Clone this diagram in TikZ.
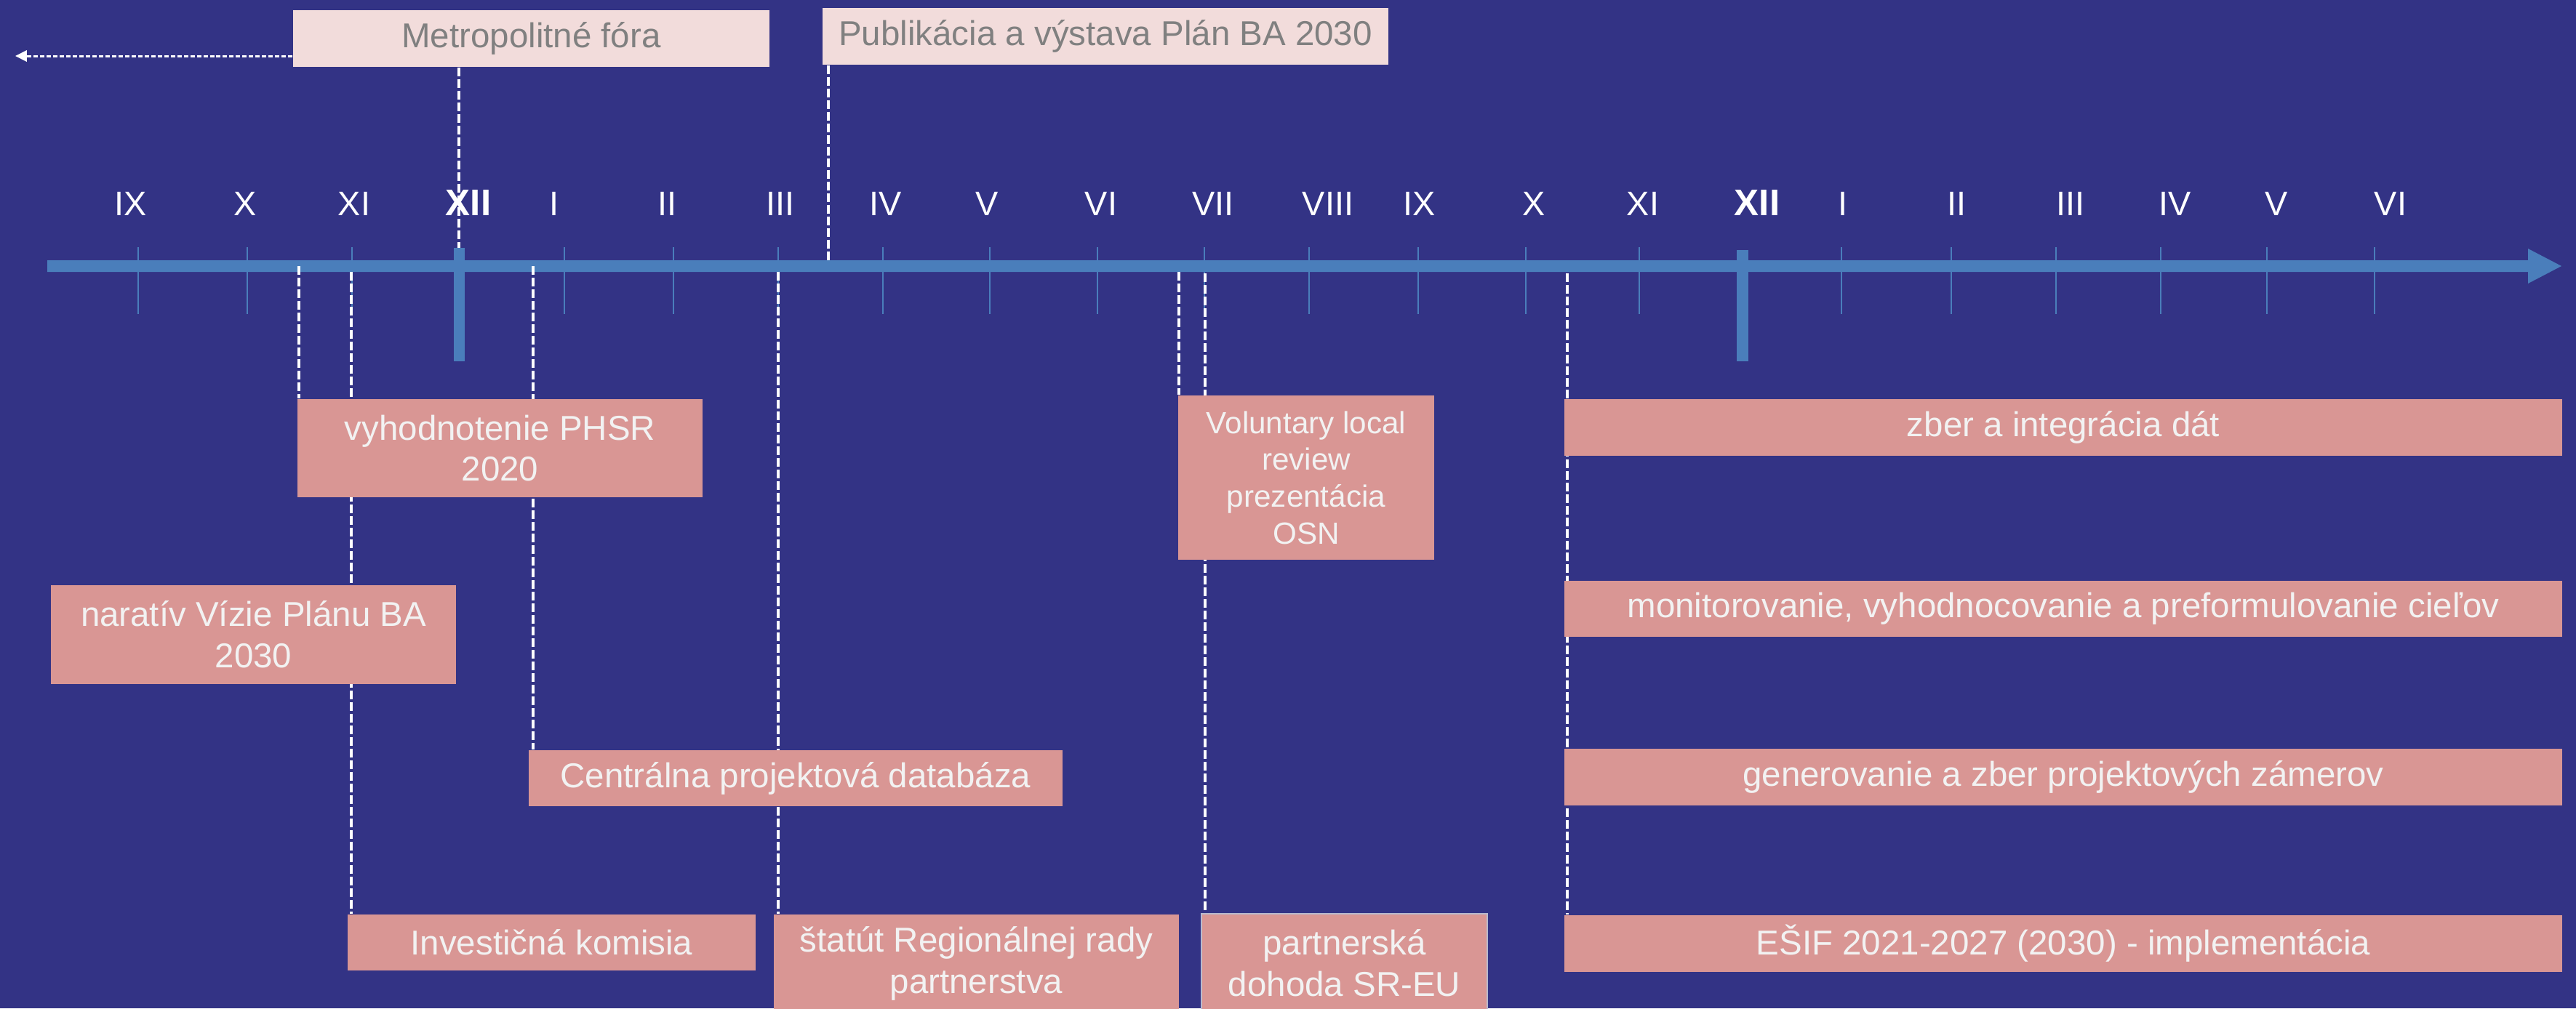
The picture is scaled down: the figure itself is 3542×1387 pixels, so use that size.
\documentclass[tikz,border=0pt]{standalone}
\usepackage{fontspec}
\setmainfont{Liberation Sans}
\usetikzlibrary{arrows.meta}
\definecolor{bgblue}{RGB}{51,51,133}
\definecolor{axisblue}{RGB}{74,126,187}
\definecolor{boxpink}{RGB}{217,150,148}
\definecolor{lightpink}{RGB}{242,220,219}
\definecolor{graytext}{RGB}{128,128,128}
\definecolor{boxtext}{RGB}{242,242,242}
\definecolor{partborder}{RGB}{185,185,205}
\pgfdeclarelayer{back}
\pgfdeclarelayer{mid}
\pgfsetlayers{back,mid,main}
\begin{document}
\begin{tikzpicture}[x=0.01cm,y=-0.01cm,
  pbox/.style={fill=boxpink, text=boxtext, inner sep=0pt, align=center, font=\fontsize{13.5}{16.2}\selectfont},
  tbox/.style={fill=lightpink, text=graytext, inner sep=0pt, align=center, font=\fontsize{13.5}{16.2}\selectfont},
  dline/.style={white, line width=1.1pt, dash pattern=on 3.4pt off 1.15pt},
  aline/.style={white, line width=0.85pt, dash pattern=on 1.7pt off 0.85pt},
  month/.style={text=white, font=\fontsize{13.3}{15}\selectfont, anchor=base, inner sep=0pt},
  monthbold/.style={text=white, font=\fontsize{14.5}{16}\selectfont\bfseries, anchor=base, inner sep=0pt},
  tickline/.style={axisblue, line width=0.6pt}]
\useasboundingbox (0,0) rectangle (3542,1387);
\clip (0,0) rectangle (3542,1387);
\begin{pgfonlayer}{back}
\fill[bgblue] (0,0) rectangle (3542,1387);
\end{pgfonlayer}

% top boxes
\node[tbox, minimum width=6.55cm, minimum height=0.78cm] (meta) at (730.5,53) {Metropolitné fóra};
\node[tbox, minimum width=7.78cm, minimum height=0.78cm] (pub) at (1520,50) {Publikácia a výstava Plán BA 2030};

% lower boxes
\node[pbox, minimum width=5.57cm, minimum height=1.35cm] (vyh) at (687.5,616.5) {vyhodnotenie PHSR\\2020};
\node[pbox, minimum width=5.57cm, minimum height=1.36cm] (nar) at (348.5,873) {naratív Vízie Plánu BA\\2030};
\node[pbox, minimum width=7.34cm, minimum height=0.77cm] (cent) at (1094,1070.5) {Centrálna projektová databáza};
\node[pbox, minimum width=5.61cm, minimum height=0.77cm] (inv) at (758.5,1296.5) {Investičná komisia};
\node[pbox, minimum width=5.57cm, minimum height=1.35cm] (stat) at (1342.5,1325.5) {štatút Regionálnej rady\\partnerstva};
\node[pbox, draw=partborder, line width=0.5pt, minimum width=3.93cm, minimum height=1.35cm] (part) at (1848.5,1324.5) {partnerská\\dohoda SR-EU};
\node[pbox, font=\fontsize{12}{14.4}\selectfont, minimum width=3.52cm, minimum height=2.26cm] (vol) at (1796,657) {Voluntary local\\review\\prezentácia\\OSN};
\node[pbox, minimum width=13.72cm, minimum height=0.78cm] (zber) at (2837,588) {zber a integrácia dát};
\node[pbox, minimum width=13.72cm, minimum height=0.77cm] (mon) at (2837,837.5) {monitorovanie, vyhodnocovanie a preformulovanie cieľov};
\node[pbox, minimum width=13.72cm, minimum height=0.78cm] (gen) at (2837,1069) {generovanie a zber projektových zámerov};
\node[pbox, minimum width=13.72cm, minimum height=0.78cm] (esif) at (2837,1298) {EŠIF 2021-2027 (2030) - implementácia};

\begin{pgfonlayer}{mid}
% axis
\fill[axisblue] (65,358) -- (3476,358) -- (3476,342) -- (3522,366) -- (3476,390) -- (3476,374) -- (65,374) -- cycle;
\foreach \x in {190,340,484,776,926,1070,1214,1361,1509,1656,1800,1950,2098,2254,2532,2683,2827,2971,3117,3265}
  \draw[tickline] (\x,340) -- (\x,432);
\fill[axisblue] (624,341) rectangle (639,497);
\fill[axisblue] (2388,344) rectangle (2404,497);
% dashed connectors
\coordinate (a1) at (631,341);
\coordinate (a2) at (1139,358);
\draw[dline] (meta.south -| a1) -- (a1);
\draw[dline] (pub.south -| a2) -- (a2);
\coordinate (b1) at (411,366);
\coordinate (b2) at (483,374);
\coordinate (b3) at (733,366);
\coordinate (b4) at (1070,374);
\coordinate (b5) at (1621,374);
\coordinate (b6) at (1657,376);
\coordinate (b7) at (2155,376);
\draw[dline] (b1) -- (b1 |- vyh.north);
\draw[dline] (b2) -- (b2 |- inv.north);
\draw[dline] (b3) -- (b3 |- cent.north);
\draw[dline] (b4) -- (b4 |- stat.north);
\draw[dline] (b5) -- (b5 |- vol.north);
\draw[dline] (b6) -- (b6 |- part.north);
\draw[dline] (b7) -- (b7 |- esif.north);
% left arrow
\coordinate (arrL) at (21,77);
\draw[aline, -{Triangle[length=4.5pt,width=4.3pt]}] (arrL -| meta.west) -- (arrL);
\end{pgfonlayer}

% month labels
\foreach \x/\t [count=\i] in {180/IX,337/X,487/XI,762/I,917/II,1073/III,1218/IV,1357/V,1514/VI,1668/VII,1826/VIII,1952/IX,2109/X,2259/XI,2534/I,2690/II,2847/III,2991/IV,3130/V,3287/VI}
  \node[month] (m\i) at (\x,296) {\t};
\node[monthbold] (mxa) at (644,296) {XII};
\node[monthbold] (mxb) at (2416,296) {XII};
\end{tikzpicture}
\end{document}
